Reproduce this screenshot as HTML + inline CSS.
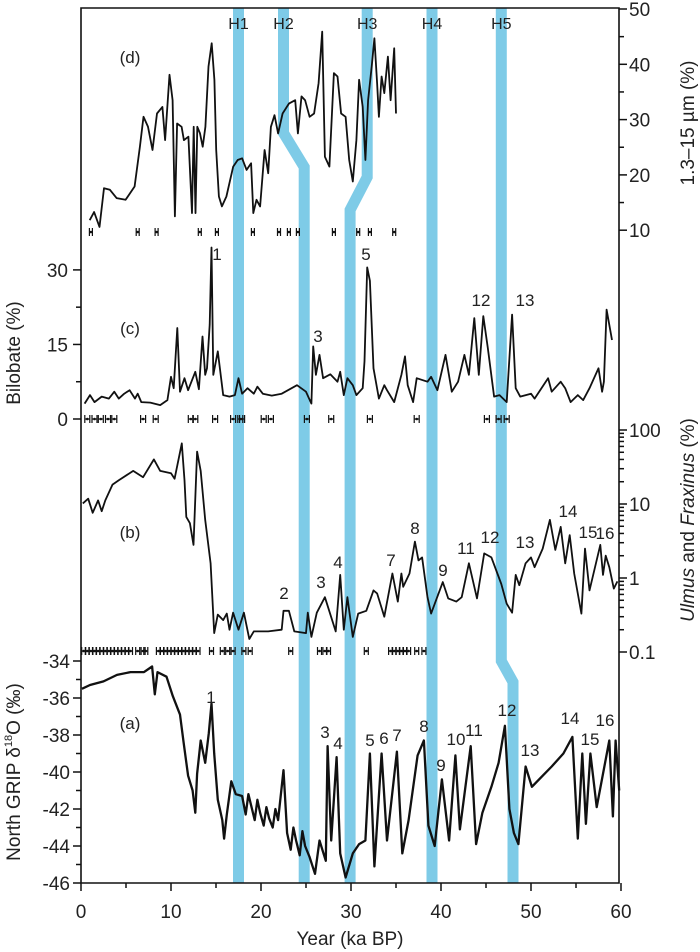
<!DOCTYPE html>
<html><head><meta charset="utf-8"><style>
html,body{margin:0;padding:0;background:#fff;}
svg{display:block;font-family:"Liberation Sans",Arial,sans-serif;}
</style></head><body>
<svg id="chart" width="700" height="952" viewBox="0 0 700 952" xmlns="http://www.w3.org/2000/svg">
<g id="bands"></g>
<g id="axes"></g>
<g id="series"></g>
<g id="labels"></g>
</svg>
<script>
// ---- data ----
const dAge=[0.97,1.46,2.06,2.56,3.21,3.95,4.95,5.95,6.55,6.94,7.44,7.94,8.44,9.04,9.34,9.83,10.18,10.43,10.68,11.18,11.43,11.93,12.33,12.52,12.72,12.92,13.22,13.52,13.82,14.17,14.52,14.82,15.02,15.32,15.66,16.16,16.91,17.41,17.9,18.4,18.9,19.15,19.5,19.9,20.4,20.8,21.1,21.5,21.9,22.4,23.1,23.8,24.1,24.5,24.9,25.4,25.9,26.4,26.8,27.1,27.6,28.1,28.5,28.9,29.4,29.8,30.2,30.6,30.9,31.3,31.6,31.9,32.3,32.6,32.9,33.1,33.4,33.7,34.1,34.4,34.8,35.0];
const dVal=[11.8,13.3,10.6,17.6,17.3,15.8,15.5,17.9,25.1,30.5,28.7,24.5,31.1,32.3,26.3,38.1,33.5,12.5,29.3,28.7,26.3,26.9,13.1,28.7,13.1,28.7,27.5,25.1,28.7,39.6,43.8,37.2,24.5,16.1,14.3,16.1,21.5,22.7,23.0,20.9,22.1,13.1,15.5,14.3,24.5,20.3,28.7,30.8,27.5,31.1,32.9,33.5,27.5,34.2,33.5,30.5,31.1,36.6,45.9,23.3,21.5,38.4,37.8,31.1,30.5,22.7,18.8,26.3,37.2,32.3,22.7,33.5,39.6,44.7,36.6,30.5,37.8,34.8,41.4,33.5,42.9,31.1];
const cAge=[0.4,1.0,1.5,2.3,3.1,3.7,4.2,4.8,5.4,6.0,6.3,6.7,7.7,8.8,9.6,10.0,10.3,10.7,11.0,11.5,11.9,12.7,13.1,13.5,13.8,14.0,14.3,14.5,14.7,15.2,15.8,16.5,17.1,17.5,17.9,18.5,19.2,19.6,20.2,21.2,22.3,24.0,25.0,25.6,25.8,26.1,26.5,26.9,27.7,28.5,28.8,29.2,29.6,30.2,30.6,31.3,31.5,31.8,32.1,32.5,33.1,33.7,34.0,34.8,35.6,36.0,36.3,36.9,37.3,38.5,38.9,39.6,40.5,41.2,41.9,42.6,43.1,43.7,44.2,44.7,45.2,45.9,46.5,47.3,47.9,48.3,48.8,50.0,50.4,51.9,52.3,53.3,53.8,54.4,55.2,55.8,56.5,57.5,57.9,58.1,58.4,59.0];
const cVal=[3.1,4.8,3.4,4.5,4.1,5.5,4.1,5.1,5.8,4.1,5.1,3.4,3.3,2.8,3.8,8.5,6.2,18.3,5.5,8.2,5.8,9.5,6.0,16.6,8.9,10.2,19,34.5,8.9,13.6,4.8,4.5,4.8,8.2,5.1,6.2,5.1,6.5,5.1,4.7,5.1,6.8,5.5,3.1,14.6,8.9,12.9,8.2,9.0,7.5,9.5,4.8,8.2,6.8,4.8,6.2,11.6,30.5,27.8,10.2,4.1,6.8,5.8,3.4,8.9,12.6,6.8,3.4,8.2,7.5,8.5,5.8,12.9,5.5,7.5,12.9,8.9,20.3,8.9,20.7,14.3,4.5,4.8,3.4,21.0,6.2,4.5,5.1,4.1,8.2,5.5,7.5,6.2,3.4,4.8,3.8,6.2,10.2,5.5,7.5,22,15.9];
const bAge=[0.2,0.8,1.3,1.9,2.3,2.7,3.5,4.2,5.8,6.9,8.1,8.8,10.0,10.4,11.2,11.5,11.7,12.1,12.5,12.9,13.3,13.8,14.4,14.8,15.2,15.8,16.2,16.5,16.9,17.5,18.1,18.7,19.2,20.8,22.3,22.5,23.1,23.7,25.0,25.2,25.6,26.2,27.1,28.3,28.8,29.2,29.6,30.2,30.8,31.7,32.5,32.9,33.7,34.6,35.2,35.6,35.8,36.5,37.1,37.5,37.9,38.5,38.9,40.2,40.8,41.7,42.3,43.1,44.0,44.8,45.6,46.7,47.3,47.9,48.3,48.7,49.4,50.0,50.4,51.3,52.1,52.7,53.3,53.8,54.3,54.8,55.6,56.0,56.5,57.7,58.0,58.3,58.7,59.2,59.6];
const bVal=[10.2,11.8,7.6,11.2,8.0,11.2,18.3,21,28,23,40,28,26,22,66,21,6.7,5.5,2.8,51,28,6.1,1.58,0.18,0.32,0.27,0.33,0.2,0.34,0.2,0.34,0.15,0.19,0.19,0.2,0.36,0.36,0.19,0.18,0.34,0.16,0.34,0.55,0.19,1.1,0.2,0.55,0.16,0.33,0.36,0.68,0.62,0.30,1.15,0.48,1.15,0.76,1.15,3.1,1.73,1.9,0.55,0.33,0.88,0.53,0.48,0.55,1.58,0.53,2.15,1.9,0.83,0.45,0.34,1.1,0.8,1.58,1.9,1.4,2.5,6.1,2.4,4.9,1.58,3.8,1.15,0.33,2.5,0.68,2.8,1.1,2.0,1.4,0.72,0.9];
const aAge=[0.1,1.0,2.5,4.0,5.5,7.0,7.9,8.2,8.5,9.5,10.2,11.0,11.4,11.9,12.4,12.7,12.9,13.3,13.8,14.2,14.5,14.8,15.2,15.7,15.9,16.2,16.7,17.2,17.9,18.3,18.6,18.9,19.3,19.6,19.9,20.3,20.6,20.9,21.3,21.6,21.9,22.5,22.9,23.3,23.6,23.9,24.3,24.6,24.9,25.4,26.0,26.5,27.2,27.4,27.8,28.4,28.8,29.4,30.2,30.9,31.6,32.1,32.6,33.4,34.0,35.1,35.7,36.4,37.4,38.1,38.6,39.3,40.1,40.9,41.6,42.1,43.3,43.9,44.6,45.6,46.4,47.1,47.6,48.1,48.6,49.4,50.1,51.3,52.3,53.6,54.6,55.2,55.7,56.1,56.6,57.3,58.7,59.1,59.4,59.8];
const aVal=[-35.5,-35.3,-35.1,-34.75,-34.6,-34.6,-34.3,-35.8,-34.6,-34.85,-35.9,-36.9,-38.4,-40.2,-41.0,-42.2,-40.1,-38.3,-39.5,-37.9,-36.3,-39.0,-41.5,-42.6,-43.6,-42.3,-40.5,-41.2,-41.3,-42.3,-41.2,-41.8,-42.6,-41.5,-42.2,-42.9,-41.9,-42.5,-43.0,-42.0,-42.6,-39.9,-43.3,-44.2,-43.0,-43.7,-44.5,-43.2,-44.0,-44.6,-45.5,-43.7,-44.8,-38.6,-43.7,-39.2,-44.4,-45.7,-44.4,-43.9,-43.7,-39.0,-45.1,-39.0,-43.7,-38.9,-44.4,-42.6,-39.1,-38.3,-42.9,-44.0,-40.4,-43.7,-39.1,-43.1,-38.6,-43.9,-42.2,-40.8,-39.5,-37.5,-42.0,-43.3,-43.9,-39.7,-40.8,-40.2,-39.7,-39.0,-38.1,-43.6,-39.0,-42.8,-39.0,-41.9,-38.3,-42.4,-38.3,-41.0];
const dDates=[1.1,6.3,8.4,13.2,15.1,19.1,22.0,23.1,24.1,28.1,30.8,32.1,34.8];
const cDates=[0.7,1.5,2.2,3.0,3.7,6.9,8.3,12.2,12.7,14.9,16.9,17.7,17.9,20.3,21.1,25.1,27.8,32.1,37.3,45.1,46.4,47.3];
const bDates=[0.3,0.7,1.1,1.5,1.9,2.3,2.7,3.1,3.5,3.9,4.3,4.7,5.1,5.5,6.3,6.9,7.2,8.6,9.0,9.4,9.8,10.2,10.6,11.0,11.4,11.8,12.2,12.6,13.0,14.5,15.7,16.3,16.9,18.1,18.8,23.3,26.5,27.1,27.5,31.7,34.4,34.8,35.2,35.6,36.0,36.4,37.3,38.1];
const xTicks=[0,10,20,30,40,50,60];
const aTicks=[-34,-36,-38,-40,-42,-44,-46];
const cTicks=[0,15,30];
const dTicks=[10,20,30,40,50];
const bTicks=[0.1,1,10,100];
const hNames=['H1','H2','H3','H4','H5'];
const hAges=[17.5,22.5,31.8,39.0,46.7];

// ---- scales ----
const X=k=>81+9*k;
const Ya=v=>661+(-34-v)*18.5;
const Yb=v=>578-74*Math.log10(v);
const Yc=v=>419-4.97*v;
const Yd=v=>9+(50-v)*5.53;
const NS='http://www.w3.org/2000/svg';
function mk(tag,attrs,parent,text){const e=document.createElementNS(NS,tag);for(const k in attrs)e.setAttribute(k,attrs[k]);if(text!==undefined)e.textContent=text;parent.appendChild(e);return e;}
const gB=document.getElementById('bands'),gA=document.getElementById('axes'),gS=document.getElementById('series'),gL=document.getElementById('labels');

// bands
const bandPaths=[
 [[hAges[0],8],[hAges[0],883]],
 [[hAges[1],8],[hAges[1],133],[24.8,167],[24.8,883]],
 [[hAges[2],8],[hAges[2],177],[29.9,210],[29.9,883]],
 [[hAges[3],8],[hAges[3],883]],
 [[hAges[4],8],[hAges[4],661],[48.0,682],[48.0,883]]];
bandPaths.forEach((p,i)=>{
 const e=mk('polyline',{points:p.map(q=>X(q[0])+','+q[1]).join(' '),fill:'none',stroke:'#7ecbe7','stroke-width':11,'stroke-linejoin':'miter'},gB);
 
 
 const t=mk('text',{x:X(hAges[i]),y:29,'text-anchor':'middle','font-size':16,fill:'#222'},gL,hNames[i]);
 
 
});

// frame
const fr=mk('path',{d:'M81,8 H619 V883 H81 Z',fill:'none',stroke:'#111','stroke-width':1.6},gA);


for(let k=0;k<=60;k+=5){const maj=k%10===0;mk('line',{x1:X(k),x2:X(k),y1:883,y2:maj?891:888,stroke:'#111','stroke-width':1.5},gA);}
xTicks.forEach(k=>{const t=mk('text',{x:X(k),y:918,'text-anchor':'middle','font-size':19,fill:'#222'},gA,String(k));
 
 });
const xt=mk('text',{x:350,y:945,'text-anchor':'middle','font-size':19,fill:'#222'},gA,'Year (ka BP)');


for(let v=-34;v>=-46;v--){mk('line',{x1:81,x2:v%2===0?73:76,y1:Ya(v),y2:Ya(v),stroke:'#111','stroke-width':1.5},gA);}
aTicks.forEach(v=>{const t=mk('text',{x:70,y:Ya(v)+7,'text-anchor':'end','font-size':19,fill:'#222'},gA,String(v));
 
 });
[0,7.5,15,22.5,30].forEach(v=>mk('line',{x1:81,x2:v%15===0?73:76,y1:Yc(v),y2:Yc(v),stroke:'#111','stroke-width':1.5},gA));
cTicks.forEach(v=>{const t=mk('text',{x:68,y:Yc(v)+7,'text-anchor':'end','font-size':19,fill:'#222'},gA,String(v));
 
 });
for(let v=10;v<=50;v+=5){mk('line',{x1:619,x2:v%10===0?627:624,y1:Yd(v),y2:Yd(v),stroke:'#111','stroke-width':1.5},gA);}
dTicks.forEach(v=>{const t=mk('text',{x:629,y:Yd(v)+7,'font-size':19,fill:'#222'},gA,String(v));
 
 });
for(let e=-1;e<=2;e++){for(let m=1;m<=9;m++){const v=m*Math.pow(10,e);if(v>100)break;mk('line',{x1:619,x2:m===1?627:624,y1:Yb(v),y2:Yb(v),stroke:'#111','stroke-width':1.5},gA);}}
bTicks.forEach(v=>{const t=mk('text',{x:629,y:Yb(v)+7,'font-size':19,fill:'#222'},gA,String(v));
 
 });
function vt(x,y,html,name){const t=mk('text',{x:0,y:0,transform:`translate(${x},${y}) rotate(-90)`,'text-anchor':'middle','font-size':19,fill:'#222'},gA);t.innerHTML=html;
 
 }
vt(20,772,'North GRIP δ<tspan font-size="11" dy="-8">18</tspan><tspan dy="8">O (‰)</tspan>','a-axis-title');
vt(20,353,'Bilobate (%)','c-axis-title');
vt(694,520,'<tspan font-style="italic">Ulmus</tspan> and <tspan font-style="italic">Fraxinus</tspan> (%)','b-axis-title');
vt(694,123,'1.3–15 µm (%)','d-axis-title');

function line(ages,vals,Y,name,w){const pts=ages.map((k,i)=>X(k).toFixed(1)+','+Y(vals[i]).toFixed(1)).join(' ');
 const e=mk('polyline',{points:pts,fill:'none',stroke:'#111','stroke-width':w,'stroke-linejoin':'round'},gS);
 
 }
line(dAge,dVal,Yd,'series-d-grain-size',1.8);
line(cAge,cVal,Yc,'series-c-bilobate',1.8);
line(bAge,bVal,Yb,'series-b-ulmus-fraxinus',1.8);
line(aAge,aVal,Ya,'series-a-ngrip',2.3);
function dates(arr,y,name,hw){arr.forEach(k=>{const g=mk('g',{},gS);
 
 
 mk('line',{x1:X(k)-hw,x2:X(k)+hw,y1:y,y2:y,stroke:'#111','stroke-width':1.2},g);
 mk('line',{x1:X(k)-hw,x2:X(k)-hw,y1:y-4,y2:y+4,stroke:'#111','stroke-width':1.2},g);
 mk('line',{x1:X(k)+hw,x2:X(k)+hw,y1:y-4,y2:y+4,stroke:'#111','stroke-width':1.2},g);
 mk('circle',{cx:X(k),cy:y,r:1.3,fill:'#111'},g);});}
dates(dDates,232,'date-d',1.5);
dates(cDates,419,'date-c',2.5);
dates(bDates,651,'date-b',2);

const ann=[['(d)',130,57],['(c)',130,328],['(b)',130,532],['(a)',130,723],
['1',217,254],['3',318,336],['5',366,254],['12',481,300],['13',525,300],
['2',284,593],['3',321,582],['4',338,562],['7',391,560],['8',415,528],['9',443,570],['11',466,548],['12',490,537],['13',525,542],['14',568,511],['15',588,532],['16',605,533],
['1',211,697],['3',325,732],['4',338,743],['5',370,740],['6',384,738],['7',397,735],['8',424,726],['9',441,765],['10',456,739],['11',474,730],['12',507,710],['13',530,750],['14',570,718],['15',590,739],['16',605,720]];
ann.forEach(a=>{const t=mk('text',{x:a[1],y:a[2]+6,'text-anchor':'middle','font-size':17,fill:'#222'},gL,a[0]);
 
 });
</script>
</body></html>
